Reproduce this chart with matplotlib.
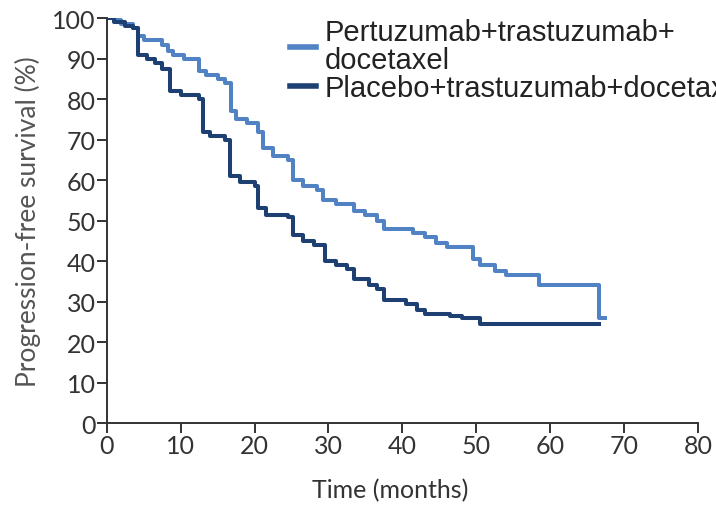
import numpy as np
import matplotlib
matplotlib.use("Agg")
import matplotlib.pyplot as plt

# Kaplan-Meier step data (time in months, PFS %)
t_pertuzumab = [0, 1, 2, 3.5, 4.3, 5, 7.5, 8.3, 9, 10.5, 12.5, 13.5, 15, 16,
                16.8, 17.5, 19, 20.5, 21.2, 22.5, 24.5, 25.2, 26.5, 28.5, 29.3,
                31, 33.5, 35, 36.5, 37.5, 41.5, 43, 44.5, 46, 49.5, 50.5, 52.5,
                54, 58.5, 66.6, 67.4]
s_pertuzumab = [100, 99.5, 98.5, 97.5, 95.5, 94.5, 93.5, 92, 91, 90, 87, 86, 85, 84,
                77, 75, 74, 72, 68, 66, 65, 60, 58.5, 57.5, 55,
                54, 52.5, 51.5, 50, 48, 47, 46, 44.5, 43.5, 40.5, 39, 37.5,
                36.5, 34, 26, 26]

t_placebo = [0, 1, 2.5, 3.5, 4.3, 5.5, 6.5, 7.5, 8.5, 10, 12.5, 13, 14, 16,
             16.7, 18, 20, 20.5, 21.5, 24.5, 25.2, 26.5, 28, 29.5, 31, 32.5,
             33.5, 35.5, 36.5, 37.5, 40.5, 42, 43, 46.5, 48, 50.5, 66.6]
s_placebo = [100, 99, 98, 97.5, 91, 90, 89, 87.5, 82, 81, 80, 72, 71, 70,
             61, 59.5, 58.5, 53, 51.5, 51, 46.5, 45, 44, 40, 39, 38,
             35.5, 34, 33, 30.5, 29.5, 28, 27, 26.5, 26, 24.5, 24.5]

labels = ["Pertuzumab+trastuzumab+\ndocetaxel", "Placebo+trastuzumab+docetaxel"]
colors = ["#5082c4", "#1e3f72"]

fig = plt.figure(figsize=(7.16, 5.06), dpi=100)
ax = fig.add_axes([0.149, 0.162, 0.826, 0.800])

ax.step(t_pertuzumab, s_pertuzumab, where="post", color=colors[0], lw=2.9, label=labels[0])
ax.step(t_placebo, s_placebo, where="post", color=colors[1], lw=2.9, label=labels[1])

ax.set_xlim(0, 80)
ax.set_ylim(0, 100)
ax.set_xticks(np.arange(0, 81, 10))
ax.set_yticks(np.arange(0, 101, 10))
for side in ["top", "right"]:
    ax.spines[side].set_visible(False)
for side in ["left", "bottom"]:
    ax.spines[side].set_color("#333333")
    ax.spines[side].set_linewidth(1.4)
ax.tick_params(direction="out", length=7, width=1.4, color="#333333",
               labelsize=18, labelcolor="#333333", pad=1)
for lab in ax.get_xticklabels() + ax.get_yticklabels():
    lab.set_family("Lato")

ax.set_xlabel("Time (months)", fontsize=18, family="Lato", color="#333333")
ax.xaxis.set_label_coords(0.48, -0.135)
ax.set_ylabel("Progression-free survival (%)", fontsize=19, family="Lato",
              color="#555555", labelpad=8)

leg = fig.legend(loc="upper left", bbox_to_anchor=(0.405, 0.963), frameon=False,
                 prop={"family": "Liberation Sans", "size": 21},
                 handlelength=0.9, handletextpad=0.3, labelspacing=0.0,
                 borderpad=0, borderaxespad=0)
for t in leg.get_texts():
    t.set_color("#222222")
    t.set_linespacing(1.0)
for h in leg.legend_handles:
    h.set_linewidth(4)

fig.savefig("out.png", dpi=100)
